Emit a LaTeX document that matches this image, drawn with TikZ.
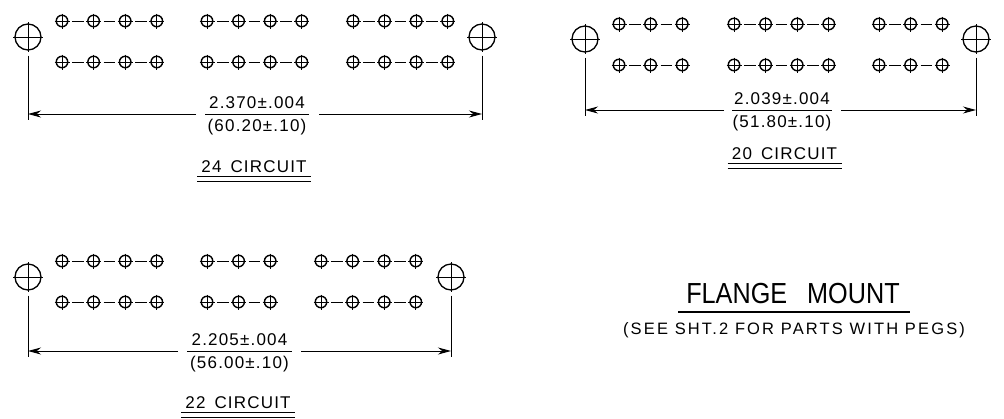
\documentclass[tikz,border=0pt]{standalone}
\usepackage{fontspec}
\setmainfont[LetterSpace=7]{Liberation Sans}
\usetikzlibrary{arrows.meta}

\newcommand{\dimfont}{\fontsize{17}{17}\selectfont\setlength{\spaceskip}{9pt}}
\newcommand{\notefont}{\fontsize{16.5}{17}\selectfont\addfontfeature{LetterSpace=13}}
\newcommand{\titlefont}{\fontsize{29}{29}\selectfont\addfontfeature{LetterSpace=0,FakeStretch=0.87}\setlength{\spaceskip}{20pt}}

\tikzset{
    hole/.style={circle,draw,line width=1.4pt,inner sep=0,minimum size=11.5pt},
    mount/.style={circle,draw,line width=1.3pt,inner sep=0,minimum size=26pt},
    link/.style={line width=0.9pt,shorten <=3.5pt,shorten >=3.5pt},
    centre/.style={line width=0.8pt},
    extline/.style={line width=0.9pt,shorten <=5pt},
    dimline/.style={line width=0.9pt,-{Stealth[length=13pt,width=7pt]}},
    dimtext/.style={inner sep=0,font=\dimfont},
    smalltext/.style={inner sep=0,font=\notefont},
    titletext/.style={inner sep=0,font=\titlefont}
}

\begin{document}
\begin{tikzpicture}[x=1pt,y=-1pt]

\useasboundingbox (0,0) rectangle (1004,418);

% Pin rows: name/y/first x/number of pins, pitch is 31.6
\foreach \n/\y/\x/\k in {
a/21/62/4,b/21/207/4,c/21/353/4,
d/62/62/4,e/62/207/4,f/62/353/4,
g/24/619/3,h/24/734/4,i/24/879/3,
j/65/619/3,k/65/734/4,l/65/879/3,
m/261/62/4,n/261/207/3,o/261/321/4,
p/302/62/4,q/302/207/3,r/302/321/4
}
{
    \foreach \p in {1,...,\k} {
        \node[hole] (\n\p) at ({\x+(\p-1)*31.6},\y) {};
        \draw[centre] ({\x+(\p-1)*31.6-7.5},\y) -- ({\x+(\p-1)*31.6+7.5},\y);
        \draw[centre] ({\x+(\p-1)*31.6},\y-7.5) -- ({\x+(\p-1)*31.6},\y+7.5);
    }
    \foreach \p [remember=\p as \q (initially 1)] in {2,...,\k} {
        \draw[link] (\n\q) -- (\n\p);
    }
}

% Mounting holes and dimensions
\foreach \n/\xl/\xr/\ym/\yd/\gl/\gr/\fl/\fr/\ux/\uy/\inch/\mm/\cct in {
top/28/482/37/114/196/319/205/309/254/176/{2.370±.004}/{(60.20±.10)}/{24 CIRCUIT},
side/585/976/39/110/724/841/732/832/784.5/163/{2.039±.004}/{(51.80±.10)}/{20 CIRCUIT},
low/28/451/277/351/178/301/187/292/238/412/{2.205±.004}/{(56.00±.10)}/{22 CIRCUIT}
}
{
    \node[mount] (\n L) at (\xl,\ym) {};
    \node[mount] (\n R) at (\xr,\ym) {};
    \draw[centre] (\xl-15,\ym) -- (\xl+15,\ym);
    \draw[centre] (\xl,\ym-15) -- (\xl,\ym+15);
    \draw[centre] (\xr-15,\ym) -- (\xr+15,\ym);
    \draw[centre] (\xr,\ym-15) -- (\xr,\ym+15);

    \coordinate (\n FL) at (\xl,\yd+6);
    \coordinate (\n FR) at (\xr,\yd+6);
    \coordinate (\n EL) at (\xl,\yd);
    \coordinate (\n ER) at (\xr,\yd);
    \coordinate (\n GL) at (\gl,\yd);
    \coordinate (\n GR) at (\gr,\yd);
    \draw[extline] (\n L) -- (\n FL);
    \draw[extline] (\n R) -- (\n FR);
    \draw[dimline] (\n GL) -- (\n EL);
    \draw[dimline] (\n GR) -- (\n ER);

    % Fraction
    \coordinate (\n BL) at (\fl,\yd);
    \coordinate (\n BR) at (\fr,\yd);
    \draw[line width=0.9pt] (\n BL) -- (\n BR);
    \node[dimtext] (\n I) at ({(\fl+\fr)/2},\yd-11) {\inch};
    \node[dimtext] (\n M) at ({(\fl+\fr)/2},\yd+13) {\mm};

    % Circuit title, underlined twice
    \node[dimtext] (\n C) at (\ux,\uy-9.5) {\cct};
    \coordinate (\n UL) at (\ux-57,\uy);
    \coordinate (\n UR) at (\ux+57,\uy);
    \draw[line width=0.9pt] (\n UL) -- (\n UR);
    \draw[line width=0.9pt] ([yshift=-5pt]\n UL) -- ([yshift=-5pt]\n UR);
}

% Title
\node[titletext] (flange) at (793,294) {FLANGE MOUNT};
\coordinate (flangeL) at (678,312);
\coordinate (flangeR) at (910,312);
\draw[line width=1.3pt] (flangeL) -- (flangeR);
\node[smalltext] (note) at (794,330) {(SEE SHT.2 FOR PARTS WITH PEGS)};

\end{tikzpicture}
\end{document}
